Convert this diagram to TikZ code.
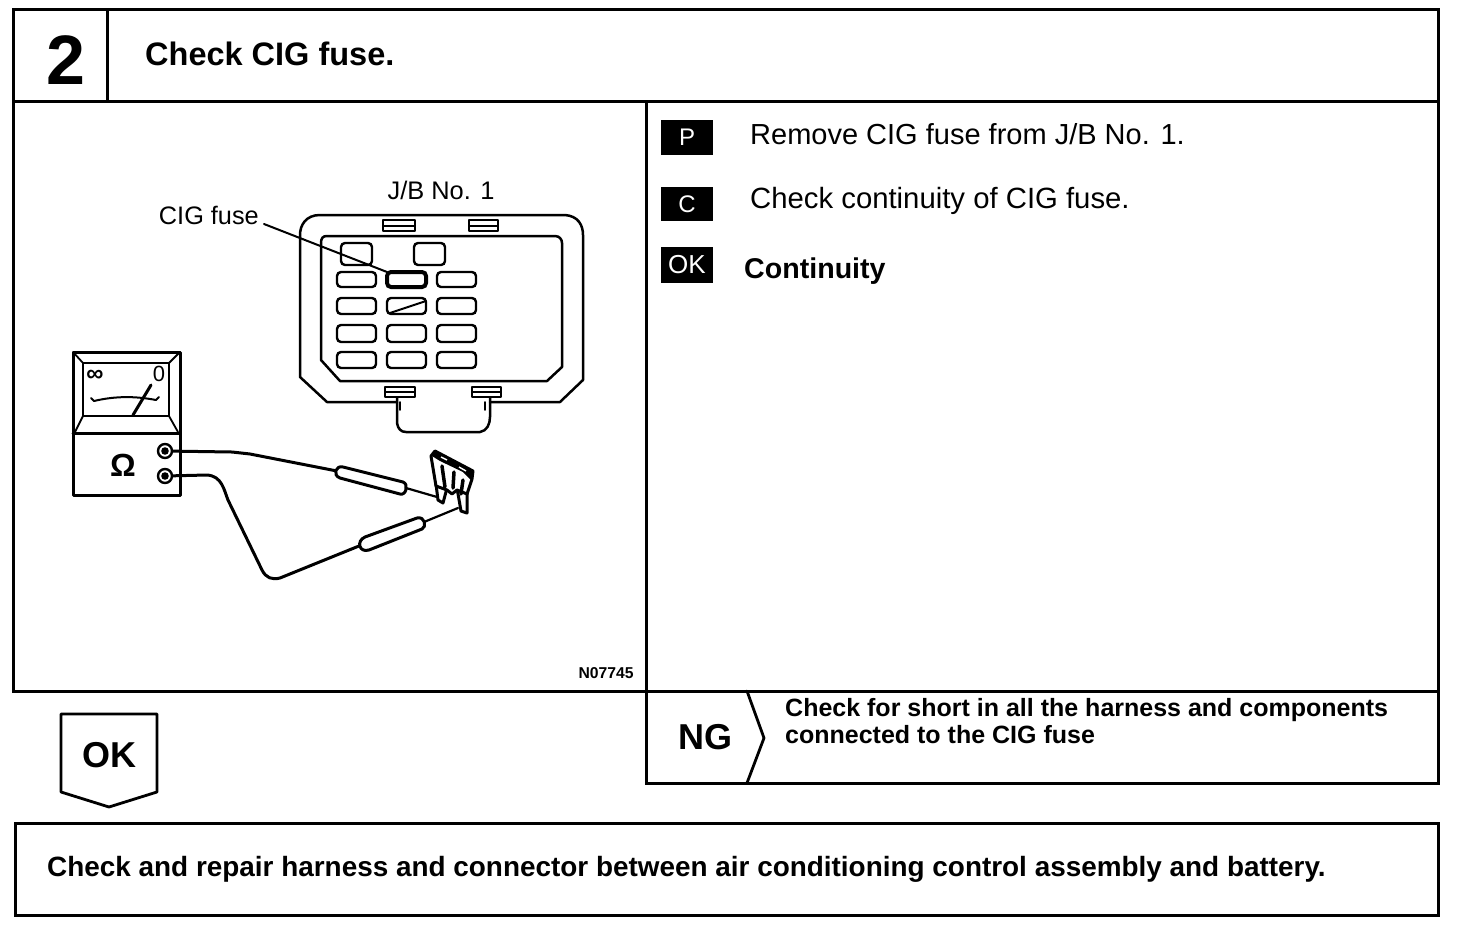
\documentclass[tikz,border=0pt]{standalone}
\usepackage{fontspec}
\setmainfont{Liberation Sans}
\newcommand{\fs}[1]{\fontsize{#1}{#1}\selectfont}
\tikzset{x=1pt,y=-1pt,
 frame/.style={draw=black,line width=3pt},
 thin line/.style={draw=black,line width=2.5pt,line join=round,line cap=round},
 slot/.style={draw=black,line width=2.4pt,rounded corners=4pt},
 lead/.style={draw=black,line width=3pt,line join=round,line cap=round},
 label/.style={anchor=west,inner sep=0pt,text=black},
 tag/.style={fill=black,text=white,minimum width=52pt,minimum height=34pt,inner sep=0pt},
}
\begin{document}
\begin{tikzpicture}
\useasboundingbox (0,0) rectangle (1472,940);
\fill[white] (0,0) rectangle (1472,940);
% frames
\draw[frame] (13,9) rectangle (1438,101);
\draw[frame] (107,9) -- (107,101);
\draw[frame] (13,101) -- (13,691) -- (646,691);
\draw[frame] (646,101) -- (646,783) -- (1438,783) -- (1438,101);
\draw[frame] (646,691) -- (1438,691);
\draw[frame] (15,823) rectangle (1438,915);
\draw[thin line,line width=2.8pt] (747,691) -- (764,738) -- (747,783);
\node[inner sep=0pt] (num) at (66,60) {\fs{70}\bfseries 2};
\node[label] (title) at (145,54) {\fs{32.5}\bfseries Check CIG fuse.};
% right panel
\node[tag,minimum height=35pt] (tp) at (687,137) {\fs{24}P};
\node[tag,minimum height=34pt] (tc) at (687,204) {\fs{24}C};
\node[tag,minimum height=36pt] (tok) at (687,265) {\fs{26}OK};
\node[label] (t1) at (750,134) {\fs{29}Remove CIG fuse from J/B No. 1.};
\node[label] (t2) at (750,201) {\fs{29.3}Check continuity of CIG fuse.};
\node[label] (t3) at (744,271) {\fs{28.6}\bfseries Continuity};
% NG
\node[inner sep=0pt] (ng) at (705,737) {\fs{36}\bfseries NG};
\node[label] (ng1) at (785,710) {\fs{25}\bfseries Check for short in all the harness and components};
\node[label] (ng2) at (785,735) {\fs{25}\bfseries connected to the CIG fuse};
% OK
\draw[thin line,line width=2.8pt] (61,714) -- (157,714) -- (157,792) -- (109,807) -- (61,792) -- cycle;
\node[inner sep=0pt] (ok) at (109,755) {\fs{36}\bfseries OK};
\node[label] (bot) at (47,869) {\fs{27.9}\bfseries Check and repair harness and connector between air conditioning control assembly and battery.};
\node[inner sep=0pt] (code) at (606,673) {\fs{15.7}\bfseries N07745};
% J/B
\node[inner sep=0pt] (jb) at (441,190) {\fs{25.4}J/B No. 1};
\node[inner sep=0pt,anchor=east] (cig) at (259,215) {\fs{25.3}CIG fuse};
\draw[thin line] (397,402) -- (327,402) -- (300,377) -- (300,235) .. controls (300,225) and (306,215) .. (320,215) -- (565,215) .. controls (578,216) and (583,225) .. (583,235) -- (583,380) -- (560,402) -- (490,402);
\draw[thin line] (327,236) -- (555,236) .. controls (560,236) and (562,240) .. (562,243) -- (562,367) -- (547,381) -- (340,381) -- (321,360) -- (321,243) .. controls (321,238) and (323,236) .. (327,236) -- cycle;
% clips
\foreach \xa/\xb/\ya/\yb in {383/415/220/231,469/498/220/231,385/415/387/397,472/501/387/397}{
 \draw[thin line,fill=white] (\xa,\ya) rectangle (\xb,\yb);
 \draw[black,line width=2pt] (\xa,{(\ya+\yb)/2}) -- (\xb,{(\ya+\yb)/2});
}
% tab
\draw[thin line] (397,398) -- (397,423) .. controls (398,429) and (401,432) .. (406,432) -- (480,432) .. controls (487,431) and (490,424) .. (490,417) -- (490,398);
\draw[thin line,line width=1.6pt] (400,402) -- (400,410) (485,402) -- (485,410);
% slots
\draw[slot] (341,243) rectangle (372,265);
\draw[slot] (414,243) rectangle (445,265);
\foreach \x in {337,387,437}{
 \draw[slot] (\x,272) rectangle ++(39,15);
 \draw[slot] (\x,298) rectangle ++(39,16);
 \draw[slot] (\x,325) rectangle ++(39,17);
 \draw[slot] (\x,352) rectangle ++(39,16);
}
\draw[slot,line width=4pt] (387,272) rectangle ++(39,15);
\draw[thin line,line width=2pt] (390,313) -- (426,301);
\draw[thin line,line width=2pt] (264,224) -- (387,272);
% meter
\draw[thin line,line width=3pt] (73,352) rectangle (180,495);
\draw[thin line,line width=3pt] (73,433) -- (180,433);
\draw[thin line] (83,363) rectangle (169,416);
\draw[thin line,line width=1.8pt] (73,352) -- (83,363) (180,352) -- (169,363) (83,416) -- (75,432) (169,416) -- (178,432);
\node[inner sep=0pt] (inf) at (95,376) {\fs{24}\bfseries ∞};
\node[inner sep=0pt] (zero) at (159,374) {\fs{22}0};
\draw[thin line,line width=2pt] (91,398) -- (94,401) .. controls (115,396) and (135,396) .. (156,400) -- (159,397);
\draw[thin line,line width=3pt] (133,415) -- (151,385);
\node[inner sep=0pt] (ohm) at (123,465) {\fs{32}\bfseries Ω};
\node[circle,draw=black,line width=2.4pt,minimum size=14pt,inner sep=0pt] (j1) at (165,451) {};
\node[circle,draw=black,line width=2.4pt,minimum size=14pt,inner sep=0pt] (j2) at (165,476) {};
\fill[black] (j1) circle (3.8pt) (j2) circle (3.8pt);
% leads
\draw[lead] (j1) -- (232,452) -- (250,454) -- (337,471);
\draw[lead] (j2) -- (207,475) .. controls (222,476) and (224,490) .. (228,500) -- (262,570) .. controls (266,578) and (272,580) .. (280,578) -- (359,546);
% probes
\draw[lead,fill=white] (343,467) -- (403,482) .. controls (409,484) and (406,496) .. (400,494) -- (340,478) .. controls (332,475) and (336,465) .. (343,467) -- cycle;
\draw[lead,line width=2.2pt] (406,488) -- (437,497);
\draw[lead,fill=white] (365,537) -- (417,518) .. controls (425,516) and (427,527) .. (422,529) -- (369,550) .. controls (359,553) and (356,541) .. (365,537) -- cycle;
\draw[lead,line width=2.2pt] (424,522) -- (458,508);
% fuse blades
\draw[thin line,line width=3pt,fill=white] (436,484) -- (438,500) -- (443,503) -- (447,488) -- cycle;
\draw[thin line,line width=3pt,fill=white] (457,488) -- (461,511) -- (467,513) -- (467,488) -- cycle;
% fuse body
\draw[thin line,line width=3pt,fill=white] (431,456) -- (435,451) -- (473,471) -- (472,479) -- (467,494) -- (457,490) -- (452,494) -- (447,490) -- (436,486) -- cycle;
\fill[black] (432,456) -- (436,451) -- (473,471) -- (471,480) -- (463,472) -- (440,461) -- cycle;
\draw[white,line width=1.4pt] (441,457) -- (447,460) (459,467) -- (466,471);
\draw[thin line,line width=3.5pt] (442,466) -- (445,487) (454,472) -- (453,488) (463,480) -- (461,494);
\end{tikzpicture}
\end{document}
